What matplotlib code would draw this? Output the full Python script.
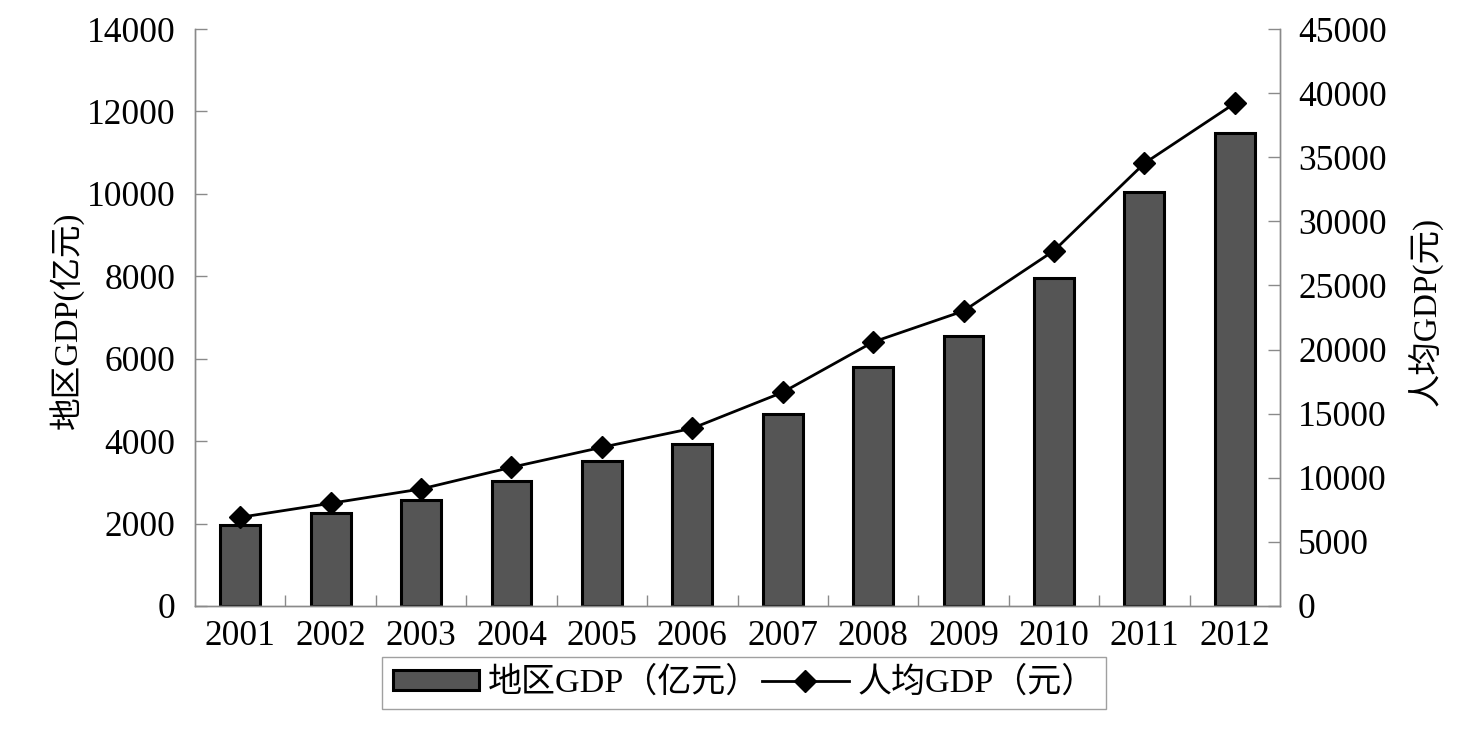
import matplotlib
matplotlib.use("Agg")
import matplotlib.pyplot as plt
from matplotlib.patches import Patch
from matplotlib.lines import Line2D
import numpy as np

years = ["2001", "2002", "2003", "2004", "2005", "2006",
         "2007", "2008", "2009", "2010", "2011", "2012"]
gdp_total = [1965, 2249, 2572, 3033, 3518, 3931, 4659, 5806, 6551, 7951, 10052, 11484]   # 亿元
gdp_per_capita = [6918, 8010, 9125, 10818, 12377, 13858, 16666, 20589, 23007, 27710, 34525, 39205]  # 元

left_ticks = [0, 2000, 4000, 6000, 8000, 10000, 12000, 14000]
right_ticks = [0, 5000, 10000, 15000, 20000, 25000, 30000, 35000, 40000, 45000]

FONTS = ["Liberation Serif", "Noto Sans CJK SC", "DejaVu Sans"]
plt.rcParams["font.family"] = FONTS

fig = plt.figure(figsize=(14.64, 7.29), dpi=100)
ax = fig.add_axes([195 / 1464, 1 - 606 / 729, (1280 - 195) / 1464, (606 - 29) / 729])
ax2 = ax.twinx()

x = np.arange(len(years))
ax.bar(x, gdp_total, width=0.44, color="#555555", edgecolor="black", linewidth=2.2, zorder=2)
ax2.plot(x, gdp_per_capita, color="black", linewidth=2.0, marker="D", markersize=11,
         markerfacecolor="black", markeredgecolor="black", zorder=3)

ax.set_xlim(-0.5, len(years) - 0.5)
ax.set_ylim(0, 14000)
ax2.set_ylim(0, 45000)

spine_col = "#8a8a8a"
for a in (ax, ax2):
    a.spines["top"].set_visible(False)
    for s in ("left", "right", "bottom"):
        a.spines[s].set_color(spine_col)
        a.spines[s].set_linewidth(1.0)

ax.set_yticks(left_ticks)
ax.set_yticklabels([str(v) for v in left_ticks])
ax2.set_yticks(right_ticks)
ax2.set_yticklabels([str(v) for v in right_ticks])

ax.set_xticks(x)
ax.set_xticklabels(years)
ax.set_xticks(np.arange(0.5, len(years) - 1, 1.0), minor=True)
ax.tick_params(axis="x", which="major", length=0, pad=10, labelsize=25.5)
ax.tick_params(axis="x", which="minor", direction="in", length=8, color=spine_col, width=1.0)
ax.tick_params(axis="y", direction="in", length=8.5, color=spine_col, width=1.0, pad=14, labelsize=25.5)
ax2.tick_params(axis="y", direction="in", length=8.5, color=spine_col, width=1.0, pad=13, labelsize=25.5)

fig.text(66 / 1464, 1 - 320 / 729, "地区GDP(亿元)", rotation=90, ha="center", va="center",
         fontsize=23.5, family=FONTS)
fig.text(1425 / 1464, 1 - 311 / 729, "人均GDP(元)", rotation=90, ha="center", va="center",
         fontsize=24, family=FONTS)

handles = [Patch(facecolor="#555555", edgecolor="black", linewidth=2.2),
           Line2D([0], [0], color="black", linewidth=2.0, marker="D", markersize=11)]
labels = ["地区GDP（亿元）", "人均GDP（元）"]
leg = fig.legend(handles, labels, loc="center", bbox_to_anchor=(744 / 1464, 1 - 683 / 729),
                 ncol=2, frameon=True, fancybox=False, edgecolor="#888888",
                 prop={"family": FONTS, "size": 24.5}, handlelength=2.55, handleheight=0.55,
                 handletextpad=0.25, columnspacing=0.05, borderpad=0.3, borderaxespad=0.2)
leg.get_frame().set_linewidth(1.0)

fig.savefig("out.png", dpi=100, facecolor="white")
